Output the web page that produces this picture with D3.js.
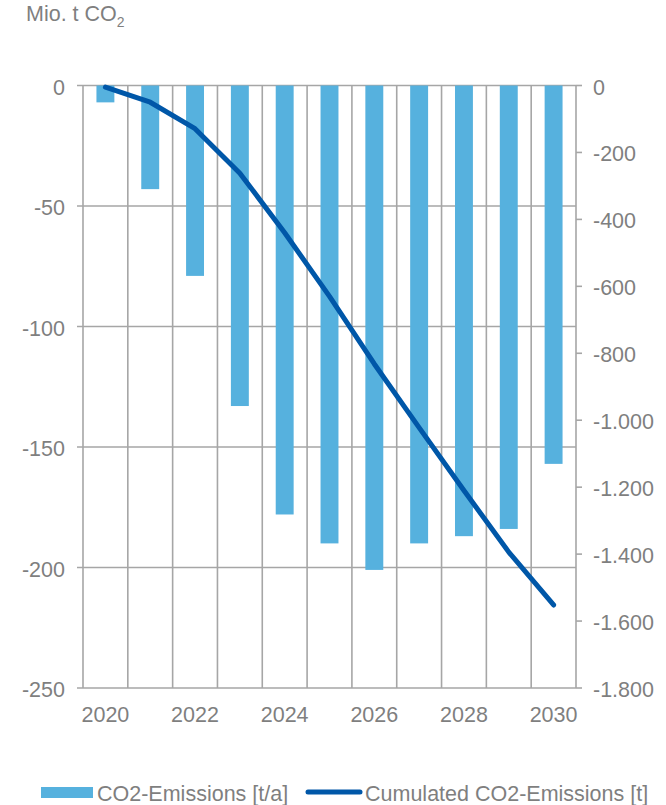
<!DOCTYPE html>
<html><head><meta charset="utf-8">
<script src="https://cdn.jsdelivr.net/npm/d3@7"></script>
<style>
html,body{margin:0;padding:0;background:#fff;}
text{font-family:"Liberation Sans",Arial,sans-serif;fill:#7F7F7F;}
</style></head>
<body><svg id="c" width="666" height="805"></svg>
<script>
const years = [2020,2021,2022,2023,2024,2025,2026,2027,2028,2029,2030];
const annual = [-7,-43,-79,-133,-178,-190,-201,-190,-187,-184,-157];
const cumulated = [-5,-50,-129,-262,-440,-630,-832,-1022,-1210,-1394,-1552];
const leftTicks = [0,-50,-100,-150,-200,-250];
const rightTicks = [0,-200,-400,-600,-800,-1000,-1200,-1400,-1600,-1800];
const xLabels = [2020,2022,2024,2026,2028,2030];

const svg = d3.select("#c");
const L=83, R=576, T=85.5, B=688;
const grid="#A6A6A6", barCol="#56B1DE", lineCol="#0057A8";
const fs=21.5;

const x = d3.scaleBand().domain(years).range([L,R]).paddingInner(0).paddingOuter(0);
const yL = d3.scaleLinear().domain([-250,0]).range([B,T]);
const yR = d3.scaleLinear().domain([-1800,0]).range([B,T]);
const fmt = d => d3.format(",")(d).replace(/,/g,".").replace("−","-");

// horizontal gridlines (extend left as ticks)
svg.append("g").selectAll("line").data(leftTicks).join("line")
  .attr("x1",L-6).attr("x2",R).attr("y1",d=>yL(d)).attr("y2",d=>yL(d))
  .attr("stroke",grid).attr("stroke-width",1.6);
// vertical gridlines
const vx = years.map(y=>x(y)).concat([R]);
svg.append("g").selectAll("line").data(vx).join("line")
  .attr("x1",d=>d).attr("x2",d=>d).attr("y1",T).attr("y2",B)
  .attr("stroke",grid).attr("stroke-width",1.6);
// right ticks
svg.append("g").selectAll("line").data(rightTicks).join("line")
  .attr("x1",R).attr("x2",R+6).attr("y1",d=>yR(d)).attr("y2",d=>yR(d))
  .attr("stroke",grid).attr("stroke-width",1.6);

// left labels
svg.append("g").selectAll("text").data(leftTicks).join("text")
  .attr("x",65).attr("y",d=>yL(d)).attr("dy","0.42em").attr("text-anchor","end")
  .attr("font-size",fs).text(d=>fmt(d));
// right labels
svg.append("g").selectAll("text").data(rightTicks).join("text")
  .attr("x",593).attr("y",d=>yR(d)).attr("dy","0.42em").attr("text-anchor","start")
  .attr("font-size",fs).text(d=>fmt(d));
// x labels
svg.append("g").selectAll("text").data(xLabels).join("text")
  .attr("x",d=>x(d)+x.bandwidth()/2).attr("y",722).attr("text-anchor","middle")
  .attr("font-size",fs).text(d=>d);

// bars
const bw = x.bandwidth()*0.4;
svg.append("g").selectAll("rect").data(years).join("rect")
  .attr("x",(d)=>x(d)+x.bandwidth()/2-bw/2).attr("width",bw)
  .attr("y",yL(0)).attr("height",(d,i)=>yL(annual[i])-yL(0))
  .attr("fill",barCol);

// line
const line = d3.line().x((d,i)=>x(years[i])+x.bandwidth()/2).y(d=>yR(d));
svg.append("path").datum(cumulated).attr("d",line)
  .attr("fill","none").attr("stroke",lineCol).attr("stroke-width",5)
  .attr("stroke-linecap","round").attr("stroke-linejoin","round");

// title
const t = svg.append("text").attr("x",26).attr("y",21).attr("font-size",fs);
t.append("tspan").text("Mio. t CO");
t.append("tspan").attr("font-size",14).attr("dy",6).text("2");

// legend
const ly=792, lb=801;
svg.append("rect").attr("x",41).attr("y",ly-5).attr("width",52).attr("height",11).attr("fill",barCol);
svg.append("text").attr("x",97).attr("y",lb).attr("font-size",fs).text("CO2-Emissions [t/a]");
svg.append("line").attr("x1",308).attr("x2",360).attr("y1",ly).attr("y2",ly)
  .attr("stroke",lineCol).attr("stroke-width",5).attr("stroke-linecap","round");
svg.append("text").attr("x",365).attr("y",lb).attr("font-size",fs).text("Cumulated CO2-Emissions [t]");
</script></body></html>
